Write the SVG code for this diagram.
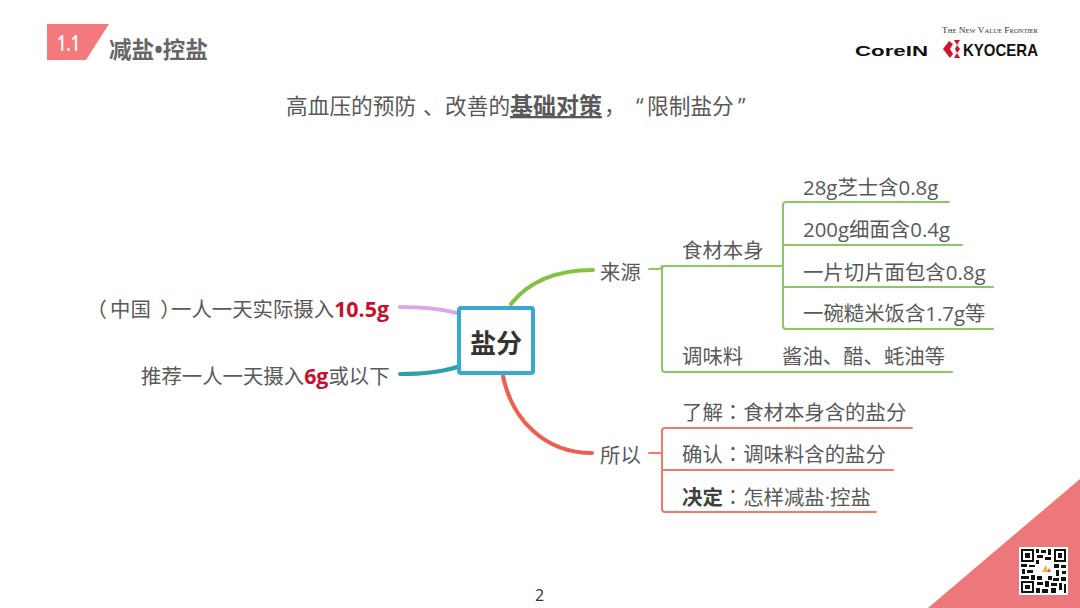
<svg xmlns="http://www.w3.org/2000/svg" width="1080" height="608" viewBox="0 0 1080 608">
<style>
text{font-family:"Open Sans","Noto Sans CJK SC",sans-serif;fill:#595959;font-size:20.4px}
.b{font-weight:700}
.r{fill:#c8102e;font-weight:700;font-size:21.4px}
.k{fill:#404040;font-weight:700}
.c{font-family:"Noto Sans CJK TC",sans-serif}
.p{font-feature-settings:"palt"}
.g{fill:none;stroke:#8cc860;stroke-width:2}
.o{fill:none;stroke:#f4796b;stroke-width:2}
.q{fill:#111}
</style>
<rect width="1080" height="608" fill="#fff"/>
<g id="header">
<polygon points="47,24 109,24 86,60 47,60" fill="#f4797c"/>
<text x="57" y="51" style="font-size:21px;font-weight:600;fill:#fff" textLength="23" lengthAdjust="spacingAndGlyphs">1.1</text>
<text x="109" y="58" class="b" style="font-size:22.6px;fill:#666">减盐•控盐</text>
</g>
<g id="logos">
<text x="942" y="33" style="font-family:'Liberation Serif',serif;font-size:8.5px;font-variant:small-caps;fill:#333" textLength="96" lengthAdjust="spacingAndGlyphs">The New Value Frontier</text>
<text x="855" y="56" style="font-family:'Liberation Sans',sans-serif;font-size:15px;font-weight:700;fill:#111" textLength="73" lengthAdjust="spacingAndGlyphs">CoreIN</text>
<path d="M943 49l6-8 4 3-3 5 3 5-3 4zM954 40h6l-3 5 3 4-3 4 3 5h-6l3-5-2-4 2-4z" fill="#d6112a"/>
<text x="963" y="56" style="font-family:'Liberation Sans',sans-serif;font-size:17px;font-weight:700;fill:#111" textLength="75" lengthAdjust="spacingAndGlyphs">KYOCERA</text>
</g>
<g id="title">
<text y="114" style="font-size:21.7px"><tspan x="286">高血压的预防</tspan><tspan x="423">、</tspan><tspan x="445">改善的</tspan><tspan x="510" class="b" text-decoration="underline" style="font-size:23px">基础对策</tspan><tspan x="604">，</tspan><tspan x="636">“</tspan><tspan x="647">限制盐分</tspan><tspan x="738">”</tspan></text>
</g>
<g id="connectors" fill="none" stroke-linecap="round">
<path d="M511 304C530 280 560 270 593 270" stroke="#84c341" stroke-width="4"/>
<path d="M400 307C425 307 442 309 457 313" stroke="#d9a7ee" stroke-width="4"/>
<path d="M400 374C425 374 442 372 457 367" stroke="#2f9fa8" stroke-width="4"/>
<path d="M503 376C512 420 545 453 592 453" stroke="#ef5f50" stroke-width="4"/>
<path class="g" d="M649 269H658Q662 269 662 265V369Q662 372 665 372H952M662 269Q662 266 665 266H783"/>
<path class="g" d="M949 202H786Q783 202 783 205V326Q783 329 786 329H993M783 245H962M783 287H993"/>
<path class="o" d="M649 453H662M912 428H665Q662 428 662 431V509Q662 512 665 512H876M662 470H893"/>
</g>
<g id="center">
<rect x="459" y="308" width="74" height="65" rx="2" fill="#fff" stroke="#3aa9d2" stroke-width="4"/>
<text x="470" y="353" style="font-size:26px;font-weight:700;fill:#333">盐分</text>
</g>
<g id="left1"><text y="317"><tspan x="96" class="p">（</tspan><tspan x="110">中国</tspan><tspan x="161" class="p">）</tspan><tspan x="171">一人一天实际摄入</tspan><tspan class="r">10.5g</tspan></text></g>
<g id="left2"><text x="141" y="384">推荐一人一天摄入<tspan class="r">6g</tspan>或以下</text></g>
<g id="source"><text x="600" y="280">来源</text></g>
<g id="ingredients"><text x="682" y="258">食材本身</text></g>
<g id="n1"><text x="803" y="195">28g芝士含0.8g</text></g>
<g id="n2"><text x="803" y="237">200g细面含0.4g</text></g>
<g id="n3"><text x="803" y="280">一片切片面包含0.8g</text></g>
<g id="n4"><text x="803" y="321">一碗糙米饭含1.7g等</text></g>
<g id="seasoning"><text x="682" y="364">调味料</text><text x="782" y="364">酱油、醋、蚝油等</text></g>
<g id="so"><text x="600" y="463">所以</text></g>
<g id="s1"><text x="682" y="420">了解<tspan class="c">：</tspan>食材本身含的盐分</text></g>
<g id="s2"><text x="682" y="462">确认<tspan class="c">：</tspan>调味料含的盐分</text></g>
<g id="s3"><text x="682" y="505"><tspan class="k">决定</tspan><tspan class="c">：</tspan>怎样减盐·控盐</text></g>
<g id="corner">
<polygon points="928,608 1080,479 1080,608" fill="#ec787b"/>
<rect x="1019" y="547" width="49" height="48" fill="#fff"/>
<path class="q" fill-rule="evenodd" d="M1021 549h13v13h-13zM1023 551v9h9v-9zM1054 549h12v13h-12zM1056 551v9h8v-9zM1021 581h13v12h-13zM1023 583v8h9v-8z"/>
<path class="q" d="M1025 553h5v5h-5zM1058 553h4v5h-4zM1025 585h5v4h-5zM1036 549h3v4h-3zM1041 550h5v3h-5zM1048 549h3v6h-3zM1037 555h6v3h-6zM1045 557h6v3h-6zM1036 560h3v4h-3zM1021 564h6v3h-6zM1029 565h6v2h-6zM1022 569h3v5h-3zM1027 570h6v3h-6zM1021 576h8v3h-8zM1031 575h4v5h-4zM1054 564h5v4h-5zM1061 565h5v3h-5zM1056 570h3v6h-3zM1062 571h4v3h-4zM1053 578h6v3h-6zM1061 577h5v4h-5zM1037 582h6v3h-6zM1045 581h4v6h-4zM1036 588h4v5h-4zM1042 589h6v4h-6zM1051 583h6v3h-6zM1059 583h3v7h-3zM1051 588h5v5h-5zM1064 584h2v9h-2zM1037 576h5v4h-5zM1048 576h4v4h-4z"/>
<path d="M1042 572l4-7 2 7z" fill="#e9b63c"/>
<path d="M1047 572l2-4 2 4z" fill="#e0564e"/>
</g>
<g id="page"><text x="535" y="601" style="font-size:16px;fill:#333">2</text></g>
</svg>
